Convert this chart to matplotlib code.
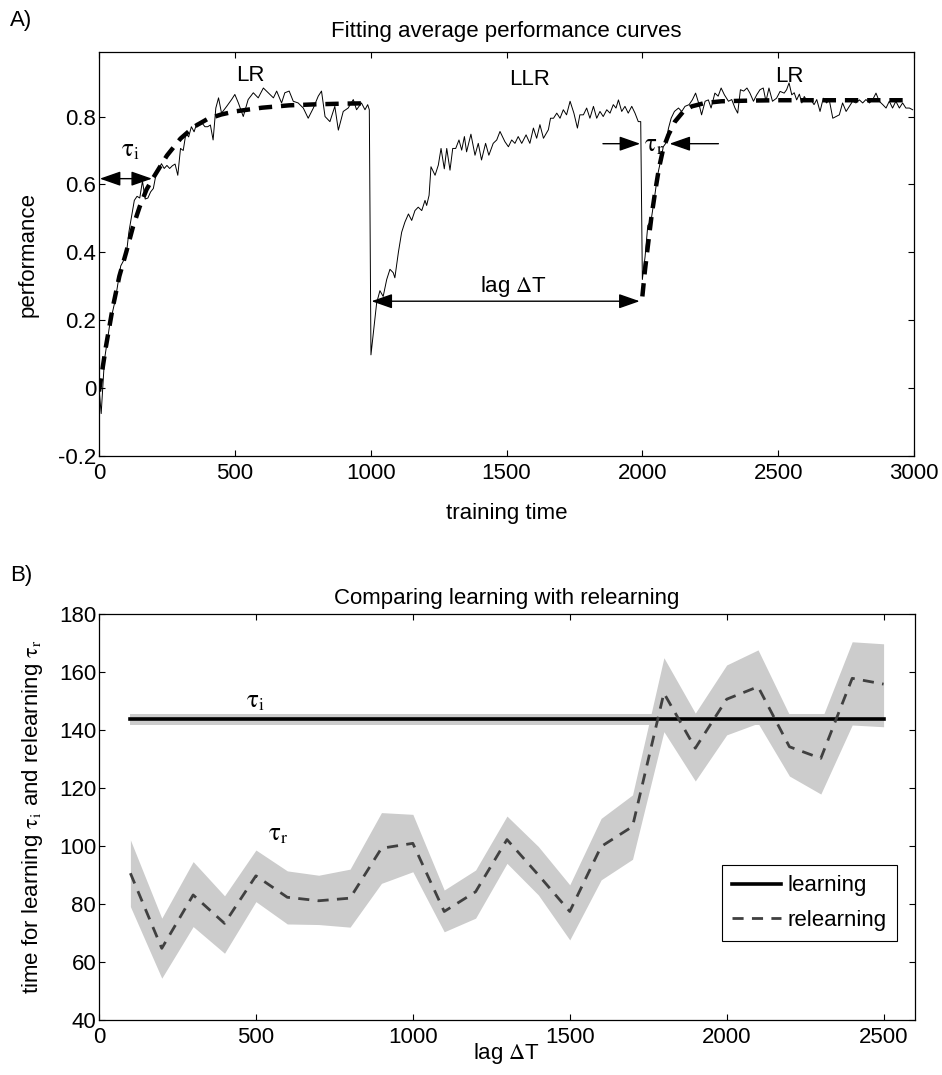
import matplotlib
matplotlib.use("Agg")
import matplotlib.pyplot as plt

plt.rcParams['font.family'] = ['Liberation Sans', 'DejaVu Sans']
plt.rcParams['mathtext.fontset'] = 'stix'
plt.rcParams['font.size'] = 16

FS = 16  # text size used throughout

# === Panel A: average performance over training ===
perf_t = [0, 8, 20, 40, 60, 80, 100, 110, 130, 140, 150, 160, 170, 180, 190, 200,
          210, 230, 240, 250, 260, 270, 280, 290, 300, 310, 320, 330, 340, 350,
          360, 370, 380, 390, 400, 410, 420, 430, 440, 451, 470, 488, 500, 513,
          531, 549, 568, 586, 605, 623, 642, 654, 672, 684, 700, 715, 733, 752,
          770, 789, 807, 819, 832, 850, 868, 881, 899, 917, 936, 948, 966, 979,
          989, 995,
          1001, 1022, 1034, 1046, 1059, 1071, 1083, 1089, 1102, 1114, 1126, 1139,
          1151, 1163, 1175, 1188, 1200, 1206, 1215, 1222, 1237, 1249, 1259, 1271,
          1280, 1292, 1302, 1313, 1325, 1335, 1345, 1353, 1369, 1384, 1396, 1408,
          1423, 1435, 1451, 1464, 1476, 1494, 1507, 1519, 1531, 1543, 1556, 1572,
          1586, 1599, 1611, 1623, 1636, 1654, 1662, 1673, 1685, 1697, 1709, 1721,
          1734, 1748, 1761, 1770, 1783, 1795, 1807, 1820, 1832, 1844, 1856, 1869,
          1881, 1893, 1903, 1912, 1924, 1936, 1948, 1961, 1973, 1985, 1994,
          2000, 2010, 2020, 2032, 2044, 2056, 2069, 2077, 2086, 2096, 2106, 2118,
          2133, 2145, 2157, 2172, 2184, 2196, 2209, 2218, 2231, 2243, 2253, 2267,
          2279, 2290, 2302, 2317, 2329, 2341, 2351, 2361, 2373, 2385, 2396, 2409,
          2421, 2433, 2445, 2455, 2466, 2479, 2494, 2507, 2522, 2531, 2540, 2550,
          2559, 2568, 2578, 2587, 2596, 2607, 2620, 2632, 2642, 2654, 2666, 2678,
          2688, 2701, 2713, 2725, 2737, 2750, 2762, 2774, 2786, 2799, 2811, 2823,
          2836, 2848, 2860, 2872, 2885, 2897, 2909, 2921, 2933, 2946, 2958, 2970,
          2983, 2995]
perf = [0.0, -0.075, 0.083, 0.19, 0.26, 0.36, 0.39, 0.46, 0.553, 0.565, 0.56, 0.61,
        0.557, 0.56, 0.578, 0.588, 0.63, 0.661, 0.647, 0.656, 0.647, 0.655, 0.66,
        0.627, 0.706, 0.70, 0.751, 0.74, 0.77, 0.755, 0.78, 0.775, 0.78, 0.77, 0.77,
        0.775, 0.731, 0.825, 0.855, 0.81, 0.83, 0.85, 0.865, 0.84, 0.80, 0.85, 0.87,
        0.855, 0.884, 0.87, 0.855, 0.875, 0.84, 0.87, 0.875, 0.845, 0.84, 0.825,
        0.795, 0.825, 0.86, 0.875, 0.80, 0.785, 0.83, 0.76, 0.815, 0.825, 0.85,
        0.82, 0.84, 0.82, 0.835, 0.82,
        0.098, 0.251, 0.287, 0.27, 0.32, 0.35, 0.34, 0.325, 0.40, 0.459, 0.489,
        0.513, 0.494, 0.523, 0.533, 0.523, 0.553, 0.538, 0.568, 0.652, 0.627, 0.657,
        0.706, 0.646, 0.706, 0.642, 0.706, 0.706, 0.731, 0.701, 0.741, 0.696, 0.748,
        0.686, 0.721, 0.672, 0.721, 0.686, 0.721, 0.731, 0.756, 0.726, 0.711, 0.731,
        0.721, 0.741, 0.721, 0.746, 0.721, 0.766, 0.736, 0.776, 0.736, 0.761, 0.795,
        0.795, 0.810, 0.795, 0.820, 0.805, 0.845, 0.810, 0.766, 0.805, 0.805, 0.825,
        0.795, 0.830, 0.795, 0.815, 0.800, 0.820, 0.810, 0.835, 0.825, 0.849, 0.815,
        0.830, 0.810, 0.830, 0.810, 0.785, 0.785,
        0.32, 0.387, 0.479, 0.493, 0.557, 0.627, 0.676, 0.711, 0.721, 0.765, 0.795,
        0.815, 0.825, 0.815, 0.830, 0.835, 0.849, 0.869, 0.835, 0.805, 0.845, 0.849,
        0.825, 0.869, 0.86, 0.884, 0.864, 0.845, 0.85, 0.825, 0.810, 0.879, 0.875,
        0.884, 0.869, 0.845, 0.864, 0.879, 0.884, 0.845, 0.884, 0.845, 0.854, 0.874,
        0.869, 0.879, 0.899, 0.864, 0.87, 0.849, 0.866, 0.840, 0.859, 0.845, 0.85,
        0.835, 0.85, 0.815, 0.854, 0.84, 0.849, 0.795, 0.80, 0.805, 0.840, 0.815,
        0.83, 0.845, 0.84, 0.849, 0.84, 0.85, 0.840, 0.85, 0.869, 0.845, 0.835,
        0.825, 0.845, 0.825, 0.845, 0.825, 0.840, 0.825, 0.825, 0.820]

# exponential fits for initial learning and relearning
fit_learn_t = [0, 25, 50, 75, 100, 125, 150, 175, 200, 250, 300, 350, 400, 450,
               500, 600, 700, 800, 900, 990]
fit_learn = [-0.01, 0.12, 0.235, 0.33, 0.40, 0.475, 0.535, 0.585, 0.62, 0.685,
             0.735, 0.77, 0.793, 0.806, 0.815, 0.826, 0.833, 0.836, 0.838, 0.839]
fit_relearn_t = [2000, 2010, 2022, 2034, 2047, 2061, 2077, 2096, 2120, 2151, 2182,
                 2231, 2292, 2400, 2500, 2600, 2700, 2800, 2900, 2990]
fit_relearn = [0.27, 0.35, 0.43, 0.508, 0.578, 0.647, 0.706, 0.746, 0.785, 0.815,
               0.830, 0.840, 0.845, 0.847, 0.848, 0.848, 0.848, 0.848, 0.848, 0.848]

# === Panel B: time constants vs lag ===
lag = [100, 200, 300, 400, 500, 600, 700, 800, 900, 1000, 1100, 1200, 1300,
       1400, 1500, 1600, 1700, 1800, 1900, 2000, 2100, 2200, 2300, 2400, 2500]
relearn_mean = [90.6, 64.7, 83.1, 73.3, 89.7, 82.3, 81.1, 82.0, 99.2, 100.9, 77.4,
                84.2, 102.2, 90.0, 77.4, 99.8, 106.7, 152.7, 133.7, 150.6, 154.9,
                134.2, 130.2, 157.8, 155.8]
relearn_upper = [102.1, 75.1, 94.6, 82.8, 98.6, 91.4, 89.9, 92.0, 111.5, 110.9,
                 84.8, 91.7, 110.3, 99.8, 86.6, 109.5, 117.6, 164.9, 145.8, 162.4,
                 167.6, 145.2, 142.9, 170.4, 169.7]
relearn_lower = [79.1, 54.4, 72.2, 63.0, 80.8, 73.1, 72.9, 72.0, 87.1, 91.1, 70.4,
                 75.1, 94.0, 83.1, 67.6, 88.3, 95.4, 139.4, 122.4, 138.3, 142.3,
                 124.1, 117.9, 141.7, 141.1]
tau_learn = 143.7
tau_learn_err = 1.9

band_grey = '#cccccc'


def matlab_axes(ax):
    ax.tick_params(direction='in', top=True, right=True, length=4, width=0.8,
                   labelsize=FS)
    ax.tick_params(axis='x', pad=5)
    ax.tick_params(axis='y', pad=2)
    for s in ax.spines.values():
        s.set_linewidth(0.9)


fig = plt.figure(figsize=(9.42, 10.75), dpi=100)

# --- A ---
axA = fig.add_axes([0.1051, 0.5758, 0.8652, 0.3758])
axA.plot(perf_t, perf, color='black', lw=0.7)
axA.plot(fit_learn_t, fit_learn, color='black', lw=3.2, ls=(0, (3, 2)))
axA.plot(fit_relearn_t, fit_relearn, color='black', lw=3.2, ls=(0, (3, 2)))
axA.set_xlim(0, 3000)
axA.set_ylim(-0.2, 0.99)
axA.set_xticks([0, 500, 1000, 1500, 2000, 2500, 3000])
axA.set_yticks([-0.2, 0, 0.2, 0.4, 0.6, 0.8])
axA.set_yticklabels(['-0.2', '0', '0.2', '0.4', '0.6', '0.8'])
matlab_axes(axA)
axA.set_title('Fitting average performance curves', fontsize=FS, pad=11)
axA.set_xlabel('training time', fontsize=FS, labelpad=14)
axA.set_ylabel('performance', fontsize=FS, labelpad=14)

arrow = dict(arrowstyle='<|-|>,head_length=0.8,head_width=0.28', color='black',
             lw=1.0, shrinkA=0, shrinkB=0)
one_arrow = dict(arrowstyle='-|>,head_length=0.8,head_width=0.28', color='black',
                 lw=1.0, shrinkA=0, shrinkB=0)
axA.annotate('', xy=(195, 0.617), xytext=(3, 0.617), arrowprops=arrow)
axA.text(115, 0.70, r'$\mathrm{\tau_i}$', fontsize=FS + 2, ha='center', va='center')
axA.annotate('', xy=(1990, 0.256), xytext=(1003, 0.256), arrowprops=arrow)
axA.text(1525, 0.30, r'lag $\Delta$T', fontsize=FS, ha='center', va='center')
axA.annotate('', xy=(1992, 0.72), xytext=(1855, 0.72), arrowprops=one_arrow)
axA.annotate('', xy=(2100, 0.72), xytext=(2280, 0.72), arrowprops=one_arrow)
axA.text(2042, 0.715, r'$\mathrm{\tau_r}$', fontsize=FS + 2, ha='center', va='center')
axA.text(556, 0.92, 'LR', fontsize=FS, ha='center', va='center')
axA.text(1586, 0.91, 'LLR', fontsize=FS, ha='center', va='center')
axA.text(2540, 0.917, 'LR', fontsize=FS, ha='center', va='center')

# --- B ---
axB = fig.add_axes([0.1051, 0.0512, 0.8662, 0.3777])
axB.fill_between([lag[0], lag[-1]], tau_learn - tau_learn_err,
                 tau_learn + tau_learn_err, color=band_grey, lw=0)
axB.fill_between(lag, relearn_lower, relearn_upper, color=band_grey, lw=0)
axB.plot([lag[0], lag[-1]], [tau_learn, tau_learn], color='black', lw=2.6,
         label='learning')
axB.plot(lag, relearn_mean, color='#404040', lw=2.0, ls=(0, (4, 3)),
         label='relearning')
axB.set_xlim(0, 2600)
axB.set_ylim(40, 180)
axB.set_xticks([0, 500, 1000, 1500, 2000, 2500])
axB.set_yticks([40, 60, 80, 100, 120, 140, 160, 180])
matlab_axes(axB)
axB.set_title('Comparing learning with relearning', fontsize=FS, pad=7)
axB.set_xlabel(r'lag $\Delta$T', fontsize=FS, labelpad=-5)
axB.set_ylabel(r'time for learning $\mathrm{\tau_i}$ and relearning $\mathrm{\tau_r}$',
               fontsize=FS, labelpad=10)
axB.text(497, 150, r'$\mathrm{\tau_i}$', fontsize=FS + 2, ha='center', va='center')
axB.text(570, 104, r'$\mathrm{\tau_r}$', fontsize=FS + 2, ha='center', va='center')
leg = axB.legend(loc='lower right', bbox_to_anchor=(0.978, 0.195), fontsize=FS,
                 frameon=True, fancybox=False, framealpha=1, edgecolor='black',
                 handlelength=2.2, borderpad=0.45, labelspacing=0.6,
                 handletextpad=0.3, borderaxespad=0)
leg.get_frame().set_linewidth(0.8)

fig.text(0.0106, 0.981, 'A)', fontsize=FS, va='center')
fig.text(0.0106, 0.465, 'B)', fontsize=FS, va='center')

fig.savefig('out.png', dpi=100)
